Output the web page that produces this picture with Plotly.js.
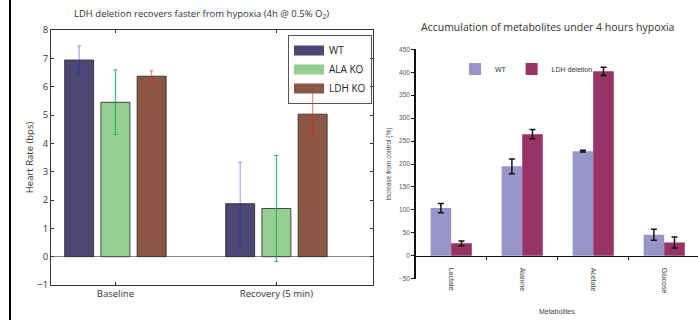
<!DOCTYPE html>
<html><head><meta charset="utf-8">
<script src="https://cdn.plot.ly/plotly-3.0.1.min.js"></script>
<style>html,body{margin:0;padding:0;background:#fff}#c{width:698px;height:320px}</style>
</head><body><div id="c"></div>
<script>
// Left chart: heart rate
var groups = ['Baseline', 'Recovery (5 min)'];
var wtHR = [6.94, 1.87];
var wtHRErr = [0.5, 1.45];
var alaHR = [5.45, 1.70];
var alaHRErr = [1.14, 1.87];
var ldhHR = [6.37, 5.03];
var ldhHRErr = [0.19, 0.80];

// Right chart: metabolites
var metabolites = ['Lactate', 'Alanine', 'Acetate', 'Glucose'];
var wtInc = [104, 195, 228, 46];
var wtIncErr = [10, 16, 2, 12];
var ldhInc = [27, 265, 402, 29];
var ldhIncErr = [5, 10, 9, 12];

var H = 320, W = 698;
function py(p){ return 1 - p / H; }
function px(p){ return p / W; }

var lf = 'Open Sans, DejaVu Sans, sans-serif';
var rf = 'Liberation Sans Narrow, Liberation Sans, Arial, sans-serif';

function hrBar(name, y, err, color, errColor, off){
  return {type:'bar', x:groups, y:y, name:name, showlegend:false,
    offset:off, width:0.18,
    marker:{color:color, line:{color:'rgba(45,45,45,0.85)', width:1}},
    error_y:{type:'data', array:err, visible:true, color:errColor, thickness:1, width:2},
    xaxis:'x', yaxis:'y', hoverinfo:'skip'};
}
function legLine(name, color){
  return {type:'scatter', mode:'lines', x:[null], y:[null], name:name,
    line:{color:color, width:10}, xaxis:'x', yaxis:'y', legend:'legend', hoverinfo:'skip'};
}
function incBar(name, y, err, color, off){
  return {type:'bar', x:metabolites, y:y, name:name, legend:'legend2',
    offset:off, width:0.29,
    marker:{color:color, line:{width:0}},
    error_y:{type:'data', array:err, visible:true, color:'#111', thickness:1.5, width:3},
    xaxis:'x2', yaxis:'y2', hoverinfo:'skip'};
}

var data = [
  hrBar('WT', wtHR, wtHRErr, '#4d4775', 'rgba(30,30,200,0.45)', -0.315),
  hrBar('ALA KO', alaHR, alaHRErr, '#94cf8f', 'rgba(20,170,80,0.9)', -0.09),
  hrBar('LDH KO', ldhHR, ldhHRErr, '#8b5642', 'rgba(255,20,20,0.6)', 0.135),
  legLine('WT', '#4d4775'),
  legLine('ALA KO', '#94cf8f'),
  legLine('LDH KO', '#8b5642'),
  incBar('WT', wtInc, wtIncErr, '#9896c8', -0.29),
  incBar('LDH deletion', ldhInc, ldhIncErr, '#993366', 0)
];

var layout = {
  width:W, height:H, margin:{l:0,r:0,t:0,b:0},
  paper_bgcolor:'#fff', plot_bgcolor:'rgba(0,0,0,0)',
  barmode:'overlay', showlegend:true,
  font:{family:lf, color:'#333'},
  xaxis:{domain:[px(51), px(373)], anchor:'y', type:'category', range:[-0.4, 1.6],
    showline:true, linecolor:'#333', linewidth:1, mirror:'allticks',
    ticks:'inside', ticklen:3, tickcolor:'#333', showgrid:false, zeroline:false,
    tickfont:{size:9.5, color:'#333', family:lf}},
  yaxis:{domain:[py(285), py(30)], anchor:'x', range:[-1, 8], dtick:1,
    showline:true, linecolor:'#333', linewidth:1, mirror:'allticks',
    ticks:'inside', ticklen:3, tickcolor:'#333', showgrid:false,
    zeroline:true, zerolinecolor:'#888', zerolinewidth:1,
    tickfont:{size:9.5, color:'#333', family:lf},
    title:{text:'Heart Rate (bps)', font:{size:9.5, color:'#333', family:lf}, standoff:1}},
  xaxis2:{domain:[px(415.7), 1], anchor:'free', position:py(255.8), type:'category',
    range:[-0.5, 3.476], showline:true, linecolor:'#111', linewidth:1.5,
    ticks:'outside', ticklen:3, tickcolor:'#111', tickson:'boundaries', tickwidth:1.5,
    tickangle:90, ticklabelstandoff:9, showgrid:false, zeroline:false,
    tickfont:{size:7, color:'#444', family:rf},
    title:{text:'Metabolites', font:{size:7, color:'#444', family:rf}, standoff:16}},
  yaxis2:{domain:[py(278.7), py(49.3)], anchor:'x2', range:[-50, 450], dtick:50,
    showline:true, linecolor:'#111', linewidth:1.5,
    ticks:'outside', ticklen:3, tickcolor:'#111', showgrid:false, zeroline:false,
    tickfont:{size:6.5, color:'#555', family:rf},
    title:{text:'Increase from control (%)', font:{size:6.5, color:'#444', family:rf}, standoff:6}},
  legend:{x:px(288), y:py(35), xanchor:'left', yanchor:'top', bgcolor:'rgba(255,255,255,0)',
    bordercolor:'#555', borderwidth:1, font:{size:10, color:'#222', family:lf},
    itemwidth:30, tracegroupgap:0},
  legend2:{x:px(455), y:py(69), xanchor:'left', yanchor:'middle', orientation:'h',
    bgcolor:'rgba(0,0,0,0)', font:{size:7, color:'#333', family:rf}, itemwidth:30},
  annotations:[
    {xref:'paper', yref:'paper', x:px(201), y:py(14), xanchor:'center', yanchor:'middle',
     showarrow:false, text:'LDH deletion recovers faster from hypoxia (4h @ 0.5% O<sub>2</sub>)',
     font:{size:9.5, color:'#333', family:lf}},
    {xref:'paper', yref:'paper', x:px(547), y:py(27), xanchor:'center', yanchor:'middle',
     showarrow:false, text:'Accumulation of metabolites under 4 hours hypoxia',
     font:{size:10.5, color:'#333', family:lf}}
  ],
  shapes:[
    {type:'line', xref:'paper', yref:'paper', x0:px(10), x1:px(10), y0:0, y1:1,
     line:{color:'#000', width:2}}
  ]
};

Plotly.newPlot('c', data, layout, {staticPlot:true, displayModeBar:false});
</script>
</body></html>
